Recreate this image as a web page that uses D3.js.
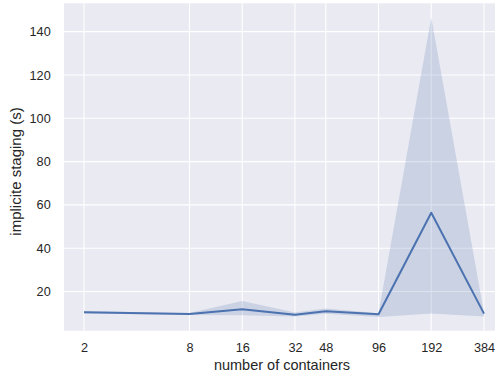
<!DOCTYPE html>
<html>
<head>
<meta charset="utf-8">
<script src="https://cdn.jsdelivr.net/npm/d3@7"></script>
<style>
  body { margin: 0; background: #fff; }
  svg { display: block; font-family: "Liberation Sans", Arial, sans-serif; }
</style>
</head>
<body>
<div class="chart"></div>
<script>
// number of containers (x, log2 axis)
var containers = [2, 8, 16, 32, 48, 96, 192, 384];
// mean staging time and confidence band
var meanTime = [10.4, 9.6, 11.8, 9.3, 10.9, 9.5, 56.4, 9.8];
var upperCI  = [10.9, 10.1, 15.6, 10.3, 12.2, 10.0, 146.6, 10.1];
var lowerCI  = [9.9, 9.2, 9.0, 8.5, 9.7, 8.2, 9.8, 8.5];
var yTicks = [20, 40, 60, 80, 100, 120, 140];

var W = 495, H = 378;
var margin = {top: 3.3, left: 64, bottom: 47.3},
    plotRight = 504; // axes run past the right edge of the picture

var data = containers.map(function(c, i) {
  return {n: c, mean: meanTime[i], lo: lowerCI[i], hi: upperCI[i]};
});

var svg = d3.select(".chart")
  .append("svg")
    .attr("width", W)
    .attr("height", H);

// x: log2, 5% padding in log space like matplotlib
var lmin = Math.log2(d3.min(containers)), lmax = Math.log2(d3.max(containers));
var lpad = (lmax - lmin) * 0.05;
var x = d3.scaleLog().base(2)
    .domain([Math.pow(2, lmin - lpad), Math.pow(2, lmax + lpad)])
    .range([margin.left, plotRight]);

var y = d3.scaleLinear()
    .domain([1.9, 153.1])
    .range([H - margin.bottom, margin.top]);

// background
svg.append("rect")
    .attr("x", margin.left)
    .attr("y", margin.top)
    .attr("width", plotRight - margin.left)
    .attr("height", H - margin.bottom - margin.top)
    .attr("fill", "#eaeaf2");

// grid
svg.append("g").selectAll("line")
  .data(yTicks)
  .join("line")
    .attr("x1", margin.left).attr("x2", plotRight)
    .attr("y1", function(d) { return y(d); })
    .attr("y2", function(d) { return y(d); })
    .attr("stroke", "#fff").attr("stroke-width", 1.1);

svg.append("g").selectAll("line")
  .data(containers)
  .join("line")
    .attr("x1", function(d) { return x(d); })
    .attr("x2", function(d) { return x(d); })
    .attr("y1", margin.top).attr("y2", H - margin.bottom)
    .attr("stroke", "#fff").attr("stroke-width", 1.1);

// confidence band
var area = d3.area()
    .x(function(d) { return x(d.n); })
    .y0(function(d) { return y(d.lo); })
    .y1(function(d) { return y(d.hi); });

svg.append("path")
    .datum(data)
    .attr("fill", "#4c72b0")
    .attr("fill-opacity", 0.2)
    .attr("d", area);

// mean line
var line = d3.line()
    .x(function(d) { return x(d.n); })
    .y(function(d) { return y(d.mean); });

svg.append("path")
    .datum(data)
    .attr("fill", "none")
    .attr("stroke", "#4c72b0")
    .attr("stroke-width", 2)
    .attr("stroke-linejoin", "round")
    .attr("d", line);

// axes (no ticks or domain, seaborn darkgrid style)
var xaxis = d3.axisBottom(x)
    .tickValues(containers)
    .tickFormat(d3.format("d"))
    .tickSize(0)
    .tickPadding(12.5);

var yaxis = d3.axisLeft(y)
    .tickValues(yTicks)
    .tickSize(0)
    .tickPadding(13.3);

svg.append("g")
    .attr("transform", "translate(0," + (H - margin.bottom) + ")")
    .call(xaxis)
    .call(function(g) { g.select(".domain").remove(); });

svg.append("g")
    .attr("transform", "translate(" + margin.left + ",0)")
    .call(yaxis)
    .call(function(g) { g.select(".domain").remove(); });

svg.selectAll(".tick text")
    .attr("fill", "#262626")
    .style("font-size", "12.7px")
    .style("font-family", "'Liberation Sans', Arial, sans-serif");

svg.append("text")
    .attr("x", 282)
    .attr("y", 370)
    .attr("text-anchor", "middle")
    .attr("fill", "#262626")
    .style("font-size", "14.5px")
    .text("number of containers");

svg.append("text")
    .attr("transform", "translate(21,171.5) rotate(-90)")
    .attr("text-anchor", "middle")
    .attr("fill", "#262626")
    .style("font-size", "15px")
    .text("implicite staging (s)");
</script>
</body>
</html>
